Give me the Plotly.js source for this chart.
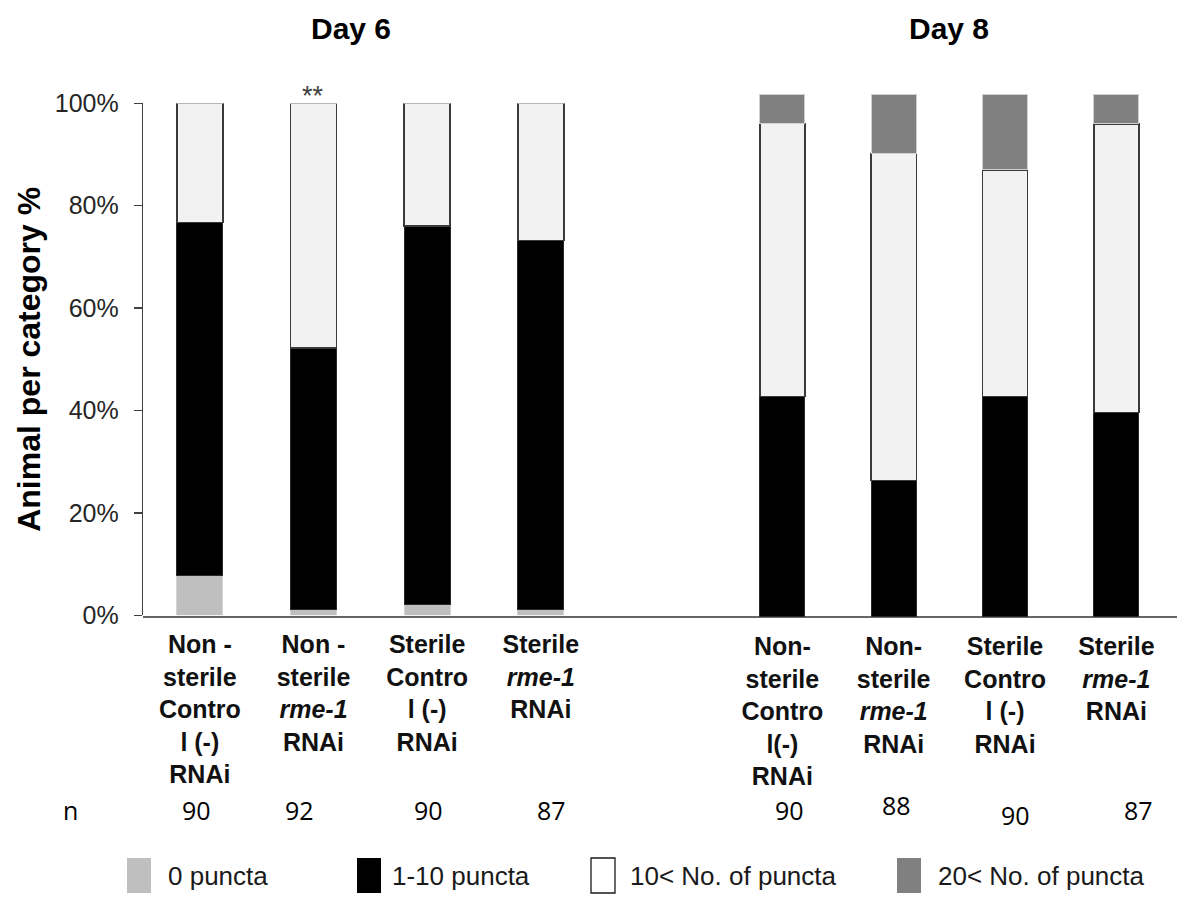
<!DOCTYPE html>
<html>
<head>
<meta charset="utf-8">
<script src="https://cdn.plot.ly/plotly-3.0.1.min.js"></script>
<style>
  html, body { margin: 0; padding: 0; background: #ffffff; }
  #chart { width: 1177px; height: 897px; }
</style>
</head>
<body>
<div id="chart"></div>
<script>
// Groups on each panel (HTML line breaks used as tick text)
const day6Groups = [
  'Non -<br>sterile<br>Contro<br>l (-)<br>RNAi',
  'Non -<br>sterile<br><i>rme-1</i><br>RNAi',
  'Sterile<br>Contro<br>l (-)<br>RNAi',
  'Sterile<br><i>rme-1</i><br>RNAi'
];
const day8Groups = [
  'Non-<br>sterile<br>Contro<br>l(-)<br>RNAi',
  'Non-<br>sterile<br><i>rme-1</i><br>RNAi',
  'Sterile<br>Contro<br>l (-)<br>RNAi',
  'Sterile<br><i>rme-1</i><br>RNAi'
];

// Puncta categories
const seriesNames = ['0 puncta', '1-10 puncta', '10< No. of puncta', '20< No. of puncta'];

// Percent of animals per category, Day 6
const day6Zero = [7.8, 1.1, 2.2, 1.1];
const day6OneToTen = [68.9, 51.1, 73.8, 72.1];
const day6OverTen = [23.3, 47.8, 24.0, 26.8];
const day6OverTwenty = [0, 0, 0, 0];

// Percent of animals per category, Day 8
const day8Zero = [0, 0, 0, 0];
const day8OneToTen = [42.2, 26.1, 42.2, 39.1];
const day8OverTen = [52.2, 62.5, 43.3, 55.2];
const day8OverTwenty = [5.6, 11.4, 14.5, 5.7];

// Number of animals scored per group
const day6N = [90, 92, 90, 87];
const day8N = [90, 88, 90, 87];

// Significance marker above the Day 6 rme-1 group
const day6Significance = ['', '**', '', ''];

// Y axis ticks
const yTickValues = [0, 20, 40, 60, 80, 100];
const yTickLabels = ['0%', '20%', '40%', '60%', '80%', '100%'];

// ---- styling ----
const fillColors = ['#bfbfbf', '#000000', '#f2f2f2', '#808080'];
const edgeColors = ['#d4d4d4', '#2b2b2b', '#3a3a3a', '#d0d0d0'];
const edgeWidths = [1, 1, 1.4, 1];

const day6Series = [day6Zero, day6OneToTen, day6OverTen, day6OverTwenty];
const day8Series = [day8Zero, day8OneToTen, day8OverTen, day8OverTwenty];

const traces = [];
seriesNames.forEach((name, i) => {
  traces.push({
    type: 'bar', name: name, x: day6Groups, y: day6Series[i],
    xaxis: 'x', yaxis: 'y',
    marker: { color: fillColors[i], line: { color: edgeColors[i], width: edgeWidths[i] } },
    hoverinfo: 'skip'
  });
  traces.push({
    type: 'bar', name: name, x: day8Groups, y: day8Series[i],
    xaxis: 'x2', yaxis: 'y2',
    marker: { color: fillColors[i], line: { color: edgeColors[i], width: edgeWidths[i] } },
    hoverinfo: 'skip'
  });
});

// plot area geometry (pixels)
const W = 1177, H = 897;
const M = { l: 143, r: 0, t: 94, b: 280 };
const plotW = W - M.l - M.r;
const plotH = H - M.t - M.b;
const px = v => (v - M.l) / plotW;          // page x -> paper x
const py = v => (H - M.b - v) / plotH;      // page y -> paper y

const escapeText = s => s.replace(/</g, '&lt;');

const annotations = [];
// panel headings
const headFont = { family: 'Liberation Sans, Arial, sans-serif', size: 30, weight: 'bold', color: '#000' };
annotations.push({ text: 'Day 6', xref: 'paper', yref: 'paper', x: px(351), y: py(28),
  xanchor: 'center', yanchor: 'middle', showarrow: false, font: headFont });
annotations.push({ text: 'Day 8', xref: 'paper', yref: 'paper', x: px(949), y: py(28),
  xanchor: 'center', yanchor: 'middle', showarrow: false, font: headFont });

// significance stars
day6Significance.forEach((s, i) => {
  if (!s) return;
  annotations.push({ text: s, xref: 'x', yref: 'paper', x: i, y: py(96),
    xanchor: 'center', yanchor: 'middle', showarrow: false,
    font: { family: 'Liberation Sans, Arial, sans-serif', size: 27, color: '#404040' } });
});

// sample sizes
const nFont = { family: 'Open Sans, Noto Sans, sans-serif', size: 25, color: '#000' };
annotations.push({ text: 'n', xref: 'paper', yref: 'paper', x: px(70), y: py(810),
  xanchor: 'center', yanchor: 'middle', showarrow: false, font: nFont });
const day6NShift = [-3, -14, 1, 11];
const day8NShift = [7, 3, 10, 22];
const day8NLift = [0, 5, -5, 0];
day6N.forEach((n, i) => annotations.push({ text: String(n), xref: 'x', yref: 'paper', x: i, y: py(810),
  xshift: day6NShift[i], xanchor: 'center', yanchor: 'middle', showarrow: false, font: nFont }));
day8N.forEach((n, i) => annotations.push({ text: String(n), xref: 'x2', yref: 'paper', x: i, y: py(810),
  xshift: day8NShift[i], yshift: day8NLift[i], xanchor: 'center', yanchor: 'middle', showarrow: false, font: nFont }));

// legend built from swatches and labels
const legendSwatchX = [127, 357, 591, 897];
const legendTextX = [166, 390, 628, 936];
const legendFont = { family: 'Liberation Sans, Arial, sans-serif', size: 26, color: '#1a1a1a' };
const shapes = [];
seriesNames.forEach((name, i) => {
  shapes.push({ type: 'rect', xref: 'paper', yref: 'paper',
    x0: px(legendSwatchX[i]), x1: px(legendSwatchX[i] + 24), y0: py(858), y1: py(893),
    fillcolor: i === 2 ? '#ffffff' : fillColors[i],
    line: { color: i === 2 ? '#1a1a1a' : fillColors[i], width: i === 2 ? 1.3 : 0 } });
  annotations.push({ text: escapeText(name), xref: 'paper', yref: 'paper',
    x: px(legendTextX[i]), y: py(876), xanchor: 'left', yanchor: 'middle',
    showarrow: false, font: legendFont });
});

// shared baseline under both panels
shapes.push({ type: 'line', xref: 'paper', yref: 'paper', x0: 0, x1: 1, y0: 0, y1: 0,
  line: { color: '#333333', width: 1.5 } });

const catAxis = {
  type: 'category', showline: false, showgrid: false, zeroline: false, ticks: '',
  ticklabelstandoff: 12,
  tickfont: { family: 'Liberation Sans, Arial, sans-serif', size: 25, weight: 'bold', color: '#111' },
  fixedrange: true
};

const layout = {
  width: W, height: H,
  margin: { l: M.l, r: M.r, t: M.t, b: M.b, pad: 0 },
  paper_bgcolor: '#ffffff', plot_bgcolor: 'rgba(0,0,0,0)',
  barmode: 'stack', bargap: 0.595,
  showlegend: false,
  font: { family: 'Liberation Sans, Arial, sans-serif', color: '#000' },
  xaxis: Object.assign({}, catAxis, { domain: [0, 0.4397], anchor: 'y' }),
  xaxis2: Object.assign({}, catAxis, { domain: [0.5645, 0.9952], anchor: 'y2' }),
  yaxis: {
    domain: [(617 - 615.3) / plotH, (617 - 103.3) / plotH],
    range: [0, 100], tickvals: yTickValues, ticktext: yTickLabels,
    ticks: 'outside', ticklen: 8, tickwidth: 1.3, tickcolor: '#404040',
    ticklabelstandoff: 10,
    showline: true, linecolor: '#404040', linewidth: 1.3,
    showgrid: false, zeroline: false, fixedrange: true,
    tickfont: { family: 'Liberation Sans, Arial, sans-serif', size: 25, color: '#262626' },
    title: { text: 'Animal per category %', standoff: 4,
      font: { family: 'Liberation Sans, Arial, sans-serif', size: 32, weight: 'bold', color: '#000' } }
  },
  yaxis2: { domain: [0, 1], range: [0, 100], anchor: 'x2', visible: false, fixedrange: true },
  annotations: annotations,
  shapes: shapes
};

Plotly.newPlot('chart', traces, layout, { displayModeBar: false, staticPlot: true });
</script>
</body>
</html>
